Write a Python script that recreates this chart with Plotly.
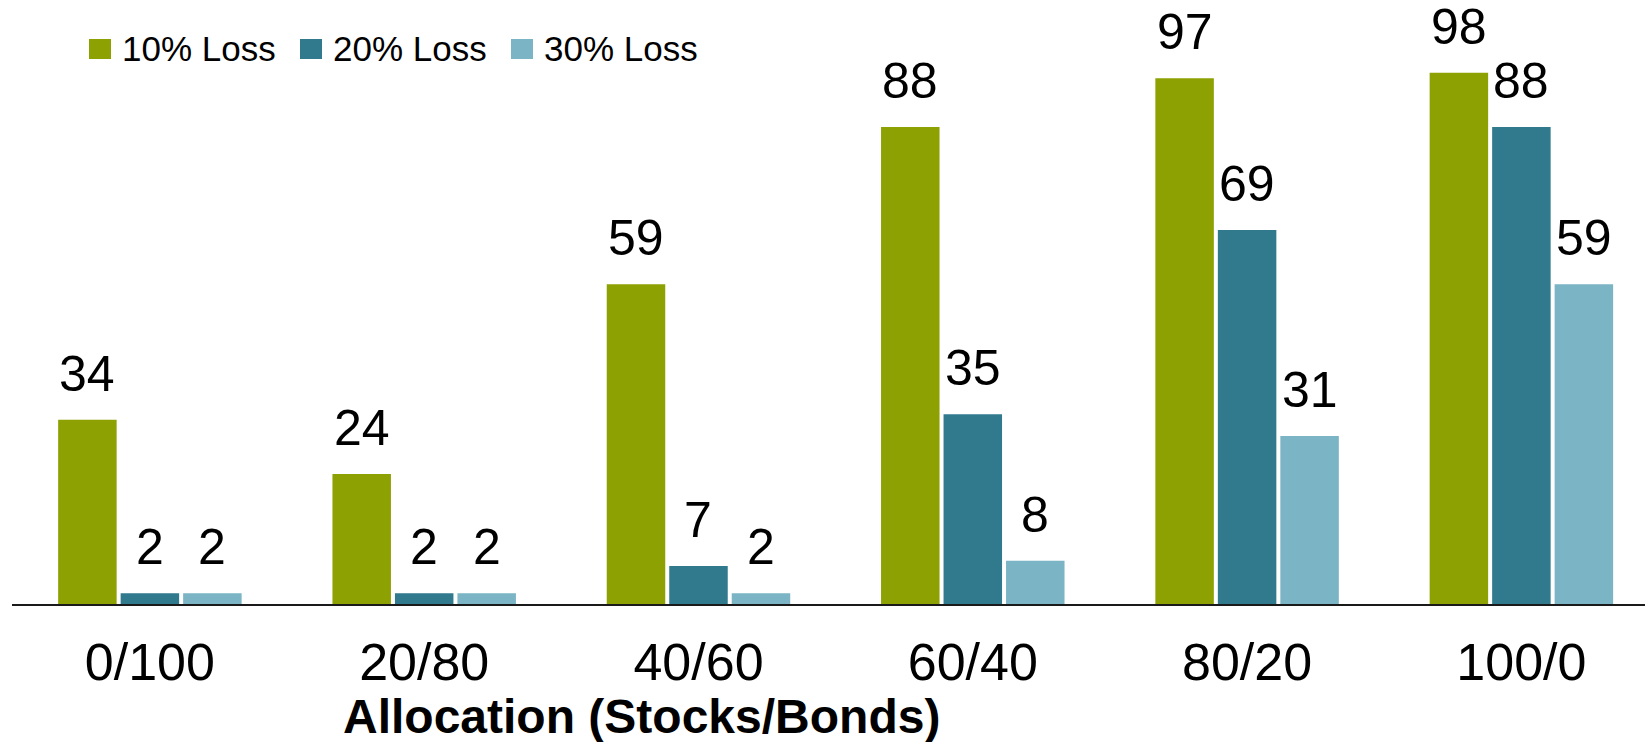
import plotly.graph_objects as go

categories = ["0/100", "20/80", "40/60", "60/40", "80/20", "100/0"]
series_names = ["10% Loss", "20% Loss", "30% Loss"]
loss10 = [34, 24, 59, 88, 97, 98]
loss20 = [2, 2, 7, 35, 69, 88]
loss30 = [2, 2, 2, 8, 31, 59]
colors = ["#8da102", "#317a8e", "#7ab4c5"]
x_title = "Allocation (Stocks/Bonds)"

W, H = 1645, 742
ML, MR, MT, MB = 12, 0, 8, 138
PW = W - ML - MR
PH = H - MT - MB
BARGAP = 0.3165
GROUPGAP = 0.064
X0 = -0.5027
UNIT = 274.3
X1 = X0 + PW / UNIT
YMAX = PH / 5.42

FONT = "Liberation Sans, Arial, sans-serif"

fig = go.Figure()
all_vals = [loss10, loss20, loss30]
for name, vals, col in zip(series_names, all_vals, colors):
    fig.add_trace(go.Bar(x=categories, y=vals, name=name, marker_color=col,
                         marker_line_width=0, showlegend=False))

slot_px = UNIT * (1 - BARGAP) / 3
annotations = []
for k, vals in enumerate(all_vals):
    for c, v in zip(categories, vals):
        annotations.append(dict(x=c, y=v, xref="x", yref="y", text=str(v),
                                showarrow=False, xanchor="center", yanchor="bottom",
                                xshift=(k - 1) * slot_px, yshift=16,
                                font=dict(family=FONT, size=50, color="#000000")))

# axis title (offset to the left like the original)
annotations.append(dict(x=(641 - ML) / PW, y=0, xref="paper", yref="paper",
                        text="<b>" + x_title + "</b>", showarrow=False,
                        xanchor="center", yanchor="top", yshift=-84,
                        font=dict(family=FONT, size=48, color="#000000")))

# manual legend
shapes = []
leg_x = [89, 300, 511]
for name, col, lx in zip(series_names, colors, leg_x):
    shapes.append(dict(type="rect", xref="paper", yref="paper",
                       x0=(lx - ML) / PW, x1=(lx + 22 - ML) / PW,
                       y0=(MT + PH - 59) / PH, y1=(MT + PH - 39) / PH,
                       fillcolor=col, line_width=0))
    annotations.append(dict(x=(lx + 31 - ML) / PW, y=(MT + PH - 48) / PH,
                            xref="paper", yref="paper", text=name, showarrow=False,
                            xanchor="left", yanchor="middle",
                            font=dict(family=FONT, size=35, color="#000000")))

fig.update_layout(
    width=W, height=H,
    margin=dict(l=ML, r=MR, t=MT, b=MB, pad=0),
    paper_bgcolor="white", plot_bgcolor="white",
    barmode="group", bargap=BARGAP, bargroupgap=GROUPGAP,
    showlegend=False,
    annotations=annotations, shapes=shapes,
    font=dict(family=FONT, color="#000000"),
)
fig.update_xaxes(range=[X0, X1], showline=True, linecolor="#1a1a1a", linewidth=2,
                 ticks="", showgrid=False, zeroline=False, ticklabelstandoff=12,
                 tickfont=dict(family=FONT, size=52, color="#000000"))
fig.update_yaxes(range=[0, YMAX], visible=False, showgrid=False, zeroline=False)

fig.write_html("out.html")
